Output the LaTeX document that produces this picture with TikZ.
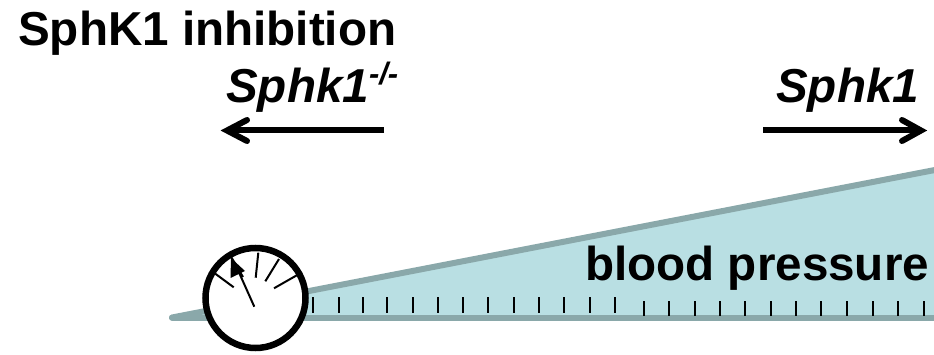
\documentclass[tikz,border=0pt]{standalone}
\usepackage{fontspec}
\setmainfont{Liberation Sans}
\definecolor{wedgefill}{HTML}{B9DFE3}
\definecolor{wedgeline}{HTML}{8AA8AA}
\tikzset{
  lbl/.style={inner sep=0pt,anchor=base west,font=\fontsize{#1}{#1}\selectfont\bfseries},
  shaft/.style={line width=6pt},
  chevron/.style={line width=6pt,line cap=round,line join=miter},
  wedgeedge/.style={line width=6pt,wedgeline,line cap=round},
  tick/.style={line width=2.6pt},
  dial/.style={line width=2pt},
}
\begin{document}
\begin{tikzpicture}[x=1pt,y=-1pt]
\useasboundingbox (0,0) rectangle (934,355);
% wedge
\fill[wedgefill] (170,317.5) -- (934,170) -- (934,317.5) -- cycle;
\begin{scope}
\clip (0,0) rectangle (934,355);
\draw[wedgeedge] (172,317.5) -- (940,169);
\draw[wedgeedge] (172,317.5) -- (940,317.5);
\end{scope}
% ticks
\foreach \x in {313,339,363,387,413,438,463,488,514,539,564,590,615}
  \draw[tick] (\x,297) -- (\x,313);
\foreach \x in {644,669,695,720,745,771,796,821,847,873,898,924}
  \draw[tick] (\x,301) -- (\x,316);
% gauge
\node[circle,draw,fill=white,line width=6.5pt,minimum size=100pt,inner sep=0pt] (gauge) at (255.5,298) {};
\draw[dial] (213,272) -- (233.7,287.3);
\draw[dial] (230,255) -- (243,277);
\draw[dial] (258.3,252.7) -- (255.7,277.7);
\draw[dial] (279,259) -- (265.3,281.3);
\draw[dial] (297.3,275) -- (274,288.3);
\draw[dial] (254.3,306.7) -- (237,268);
\fill (231,258) -- (245,271) -- (230.5,278) -- cycle;
% text
\node[lbl=47.6] (title) at (18,46) {SphK1 inhibition};
\node[lbl=47.6] (bp) at (585,280) {blood pressure};
\node[lbl=47.6] (ko) at (226,103) {\itshape Sphk1\raisebox{18pt}{\fontsize{31}{31}\selectfont -/-}};
\node[lbl=47.6] (wt) at (776,103) {\itshape Sphk1};
% arrows
\coordinate (la) at (384,130.5); \coordinate (lb) at (227,130.5);
\coordinate (ra) at (763,130.5); \coordinate (rb) at (921,130.5);
\draw[shaft] (la) -- (lb);
\draw[chevron] (247,120) -- (lb) -- (247,141);
\draw[shaft] (ra) -- (rb);
\draw[chevron] (902,120) -- (rb) -- (902,141);
\end{tikzpicture}
\end{document}
